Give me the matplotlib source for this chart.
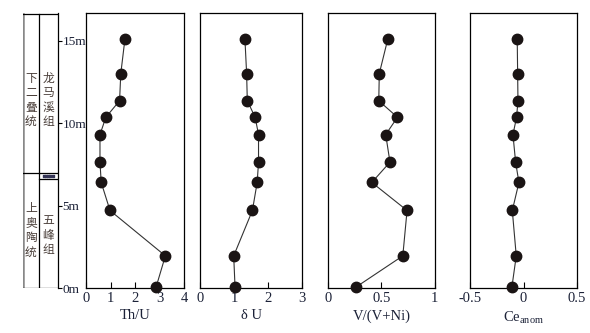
import numpy as np
import matplotlib.pyplot as plt

# depth of samples (m)
depth=[15.1, 13.0, 11.35, 10.35, 9.3, 7.63, 6.4, 4.7, 1.95, 0.05]
th_u=[1.59, 1.42, 1.37, 0.81, 0.57, 0.57, 0.62, 0.98, 3.24, 2.86]
delta_u=[1.32, 1.37, 1.39, 1.62, 1.72, 1.72, 1.68, 1.54, 0.99, 1.03]
v_vni=[0.56, 0.48, 0.475, 0.65, 0.54, 0.58, 0.41, 0.74, 0.70, 0.26]
ce_anom=[-0.06, -0.056, -0.053, -0.066, -0.10, -0.075, -0.044, -0.106, -0.069, -0.11]

depth_ticks=[0, 5, 10, 15]
depth_labels=['0m', '5m', '10m', '15m']
boundary=7.0

serif='Liberation Serif'
cjk=['Noto Sans CJK SC', 'DejaVu Sans']
tcol='#1c2238'

fig=plt.figure(figsize=(5.9, 3.33), dpi=100, facecolor='white')
bottom=0.135
height=0.826
ytop=16.67

# stratigraphic column
axc=fig.add_axes((0.039, bottom, 0.059, height))
axc.set_xlim(0, 1)
axc.set_ylim(0, ytop)
for s in ['top', 'bottom', 'left']:
    axc.spines[s].set_visible(False)
axc.spines['right'].set_linewidth(0.9)
axc.plot([0, 0], [0, 16.6], color='#888888', lw=1.8)
axc.plot([0, 1], [16.6, 16.6], color='black', lw=0.9)
axc.plot([0, 1], [0, 0], color='black', lw=0.9)
axc.plot([0.457, 0.457], [0, 16.6], color='black', lw=0.9)
axc.plot([0, 0.457], [boundary, boundary], color='black', lw=0.9)
axc.plot([0.457, 1], [boundary, boundary], color='black', lw=0.9)
axc.plot([0.457, 1], [6.6, 6.6], color='black', lw=0.9)
axc.scatter(np.linspace(0.6, 0.85, 5), [6.8]*5, s=1.2, color='#333355', marker='s')
axc.set_xticks([])
axc.yaxis.tick_right()
axc.set_yticks(depth_ticks)
axc.set_yticklabels(depth_labels, family=serif, fontsize=9.5, color=tcol)
axc.tick_params(axis='y', direction='out', length=3, width=0.8, pad=0.5)
for txt, x, y in [('下\n二\n叠\n统', 0.23, 11.4), ('上\n奥\n陶\n统', 0.23, 3.5),
                  ('龙\n马\n溪\n组', 0.73, 11.4), ('五\n峰\n组', 0.73, 3.2)]:
    axc.text(x, y, txt, family=cjk, fontsize=8.5, color='#4a3f3a', ha='center', va='center', linespacing=1.15)

# data panels
panels=[
    (0.1458, 0.166, th_u, (0, 4), [0, 1, 2, 3, 4], ['0', '1', '2', '3', '4'], 'Th/U'),
    (0.339, 0.173, delta_u, (0, 3), [0, 1, 2, 3], ['0', '1', '2', '3'], 'δ U'),
    (0.556, 0.181, v_vni, (0, 1), [0, 0.5, 1], ['0', '0.5', '1'], 'V/(V+Ni)'),
    (0.797, 0.181, ce_anom, (-0.5, 0.5), [-0.5, 0, 0.5], ['-0.5', '0', '0.5'], r'Ce$_{\mathregular{anom}}$'),
]
for left, width, vals, xlim, ticks, labels, name in panels:
    ax=fig.add_axes((left, bottom, width, height))
    ax.plot(vals, depth, color='#333333', lw=0.8, marker='o', markersize=7.5,
            markerfacecolor='#1a1414', markeredgecolor='#1a1414', clip_on=False, zorder=3)
    ax.set_xlim(xlim)
    ax.set_ylim(0, ytop)
    ax.set_yticks([])
    ax.set_xticks(ticks)
    ax.set_xticklabels(labels, family=serif, fontsize=10.5, color=tcol)
    ax.tick_params(axis='x', direction='in', length=4, width=0.8, pad=3)
    for s in ax.spines.values():
        s.set_linewidth(0.9)
    ax.set_xlabel(name, family=serif, fontsize=10.5, color=tcol, labelpad=3)

fig.savefig('out.png')
